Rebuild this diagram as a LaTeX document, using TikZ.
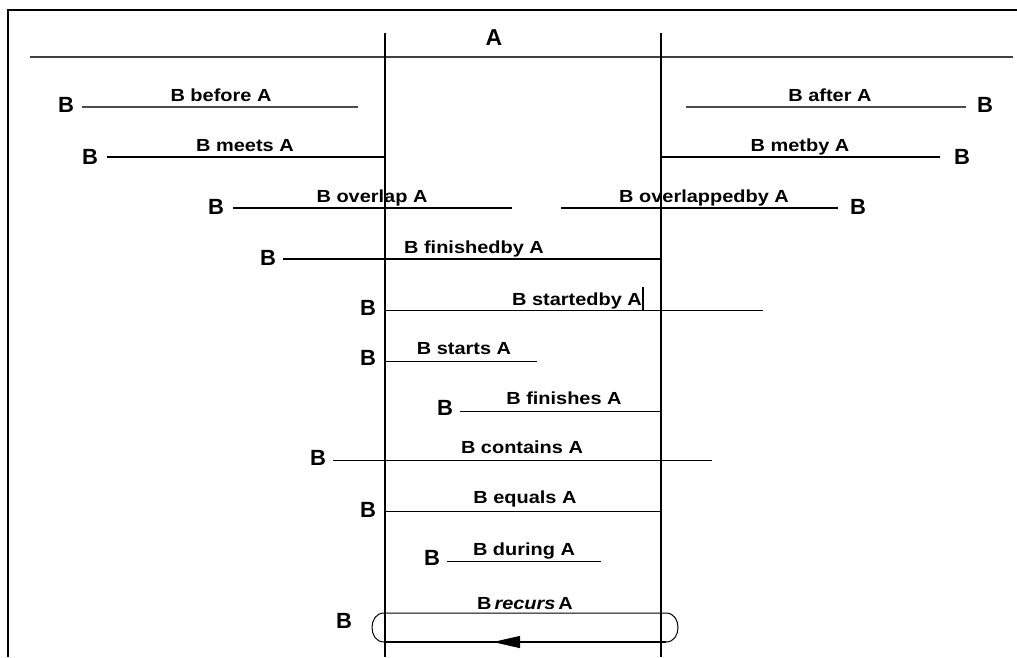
\documentclass[tikz,border=0pt]{standalone}
\usepackage{fontspec}
\setmainfont{Liberation Sans}[FakeStretch=1.14]
\newfontfamily\tagfont{Liberation Sans}
\usetikzlibrary{arrows.meta}
\tikzset{
  rel/.style={anchor=base, inner sep=0pt, font=\bfseries\fontsize{17.5}{20}\selectfont},
  btag/.style={inner sep=0pt, font=\tagfont\bfseries\fontsize{22}{24}\selectfont},
  thinbar/.style={line width=1pt, black},
  thickbar/.style={line width=2pt, black},
  greybar/.style={line width=1.5pt, black!70},
  axis/.style={line width=1.5pt, black},
}
\begin{document}
\begin{tikzpicture}[x=1pt, y=-1pt]
\useasboundingbox (0,0) rectangle (1017,657);
% frame (top and left edges)
\draw[line width=2pt] (1017,10) -- (8,10) -- (8,657);
% interval A
\draw[line width=1.3pt, black!75] (30,57) -- (1013,57);
\coordinate (a1) at (385,33); \coordinate (a1b) at (385,657);
\coordinate (a2) at (661,33); \coordinate (a2b) at (661,657);
\draw[axis] (a1) -- (a1b);
\draw[axis] (a2) -- (a2b);
\node[btag, font=\tagfont\bfseries\fontsize{23}{25}\selectfont] (alab) at (494,38) {A};

% B before A / B after A
\node[btag] (b1) at (66,105) {B};
\coordinate (s1) at (82,107); \coordinate (e1) at (358,107);
\draw[greybar] (s1) -- (e1);
\node[rel] (t1) at (221,101) {B before A};
\node[btag] (b2) at (985,105) {B};
\coordinate (s2) at (686,107); \coordinate (e2) at (966,107);
\draw[greybar] (s2) -- (e2);
\node[rel] (t2) at (830,101) {B after A};

% B meets A / B metby A
\node[btag] (b3) at (90,157) {B};
\coordinate (s3) at (107,157); \coordinate (e3) at (385,157);
\draw[thickbar] (s3) -- (e3);
\node[rel] (t3) at (245,151) {B meets A};
\node[btag] (b4) at (962,157) {B};
\coordinate (s4) at (661,157); \coordinate (e4) at (940,157);
\draw[thickbar] (s4) -- (e4);
\node[rel] (t4) at (800,151) {B metby A};

% B overlap A / B overlappedby A
\node[btag] (b5) at (216,207) {B};
\coordinate (s5) at (233,208); \coordinate (e5) at (512,208);
\draw[thickbar] (s5) -- (e5);
\node[rel] (t5) at (372,202) {B overlap A};
\node[btag] (b6) at (858,207) {B};
\coordinate (s6) at (561,208); \coordinate (e6) at (838,208);
\draw[thickbar] (s6) -- (e6);
\node[rel] (t6) at (704,202) {B overlappedby A};

% B finishedby A
\node[btag] (b7) at (268,258) {B};
\coordinate (s7) at (283,259); \coordinate (e7) at (661,259);
\draw[thickbar] (s7) -- (e7);
\node[rel] (t7) at (474,253) {B finishedby A};

% B startedby A
\node[btag] (b8) at (368,308) {B};
\coordinate (s8) at (385,310); \coordinate (e8) at (763,310);
\draw[thinbar] (s8) -- (e8);
\node[rel] (t8) at (577,305) {B startedby A};
\coordinate (c8a) at (643,287); \coordinate (c8b) at (643,310);
\draw[line width=1.2pt] (c8a) -- (c8b);

% B starts A
\node[btag] (b9) at (368,358) {B};
\coordinate (s9) at (385,361); \coordinate (e9) at (537,361);
\draw[thinbar] (s9) -- (e9);
\node[rel] (t9) at (464,354) {B starts A};

% B finishes A
\node[btag] (b10) at (445,408) {B};
\coordinate (s10) at (460,411); \coordinate (e10) at (661,411);
\draw[thinbar] (s10) -- (e10);
\node[rel] (t10) at (564,404) {B finishes A};

% B contains A
\node[btag] (b11) at (318,458) {B};
\coordinate (s11) at (333,460); \coordinate (e11) at (712,460);
\draw[thinbar] (s11) -- (e11);
\node[rel] (t11) at (522,453) {B contains A};

% B equals A
\node[btag] (b12) at (368,510) {B};
\coordinate (s12) at (385,511); \coordinate (e12) at (661,511);
\draw[thinbar] (s12) -- (e12);
\node[rel] (t12) at (525,503) {B equals A};

% B during A
\node[btag] (b13) at (432,558) {B};
\coordinate (s13) at (447,561); \coordinate (e13) at (601,561);
\draw[thinbar] (s13) -- (e13);
\node[rel] (t13) at (524,555) {B during A};

% B recurs A: closed loop with a return arrow
\node[btag] (b14) at (344,621) {B};
\node[rel] (t14) at (525,609) {B\,{\itshape recurs}\,A};
\coordinate (lt) at (384,613); \coordinate (rt) at (666,613);
\coordinate (lb) at (384,642); \coordinate (rb) at (666,642);
\coordinate (tip) at (493,642);
\draw[line width=1pt] (rb) .. controls (682,642) and (682,613) .. (rt) -- (lt)
  .. controls (368,613) and (368,642) .. (lb);
\draw[line width=2pt] (rb) -- (lb);
\draw[line width=1pt, -{Triangle[length=27pt,width=12pt]}] (rb) -- (tip);
\end{tikzpicture}
\end{document}
